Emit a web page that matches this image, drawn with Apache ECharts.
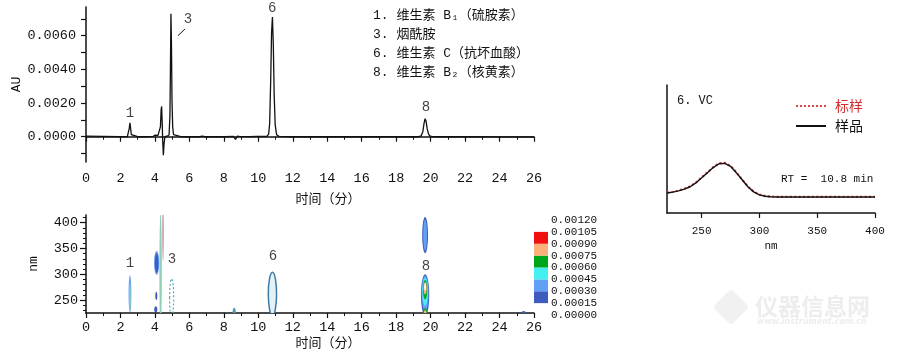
<!DOCTYPE html>
<html><head><meta charset="utf-8">
<script src="https://cdn.jsdelivr.net/npm/echarts@6/dist/echarts.min.js"></script>
<style>html,body{margin:0;padding:0;background:#fff}#c{width:900px;height:353px}</style>
</head><body><div id="c"></div>
<script>
// ---- Chromatogram (top) ----
const times = [0, 1, 2, 2.4, 2.47, 2.51, 2.55, 2.59, 2.63, 2.7, 3.0, 3.5, 3.9, 4.02, 4.1, 4.18, 4.26, 4.32, 4.36, 4.39, 4.42, 4.45, 4.49, 4.53, 4.58, 4.7, 4.82, 4.87, 4.9, 4.93, 4.96, 4.99, 5.03, 5.08, 5.15, 5.5, 6.0, 6.6, 6.75, 6.9, 7.5, 8.0, 8.55, 8.68, 8.78, 8.9, 9.5, 9.9, 10.0, 10.1, 10.5, 10.6, 10.66, 10.72, 10.77, 10.82, 10.87, 10.92, 10.98, 11.06, 11.2, 12, 14, 16, 18, 19.3, 19.45, 19.55, 19.62, 19.68, 19.74, 19.8, 19.88, 19.98, 20.1, 20.4, 22, 24, 26];
const absorbance = [0.00003, 0.00002, 0.00001, 0.00001, 0.00012, 0.0005, 0.00082, 0.0005, 0.00012, 0.00002, 0, 0, 0.00002, 0.0001, 0.00015, 0.00008, 0.00005, 0.0006, 0.0016, 0.0018, 0.0009, -0.0002, -0.0011, -0.0004, 0, 0.00003, 0.0001, 0.0012, 0.004, 0.0073, 0.0055, 0.0022, 0.0006, 0.00012, 0.00003, 0, 0, 0, 0.00004, 0, 0, 0, 0.00002, -0.00016, 0.00003, 0.00002, 0.00001, 0.00002, 0.00005, 0.00002, 0.00002, 0.00015, 0.0008, 0.0034, 0.0062, 0.0071, 0.0055, 0.0025, 0.0007, 0.00012, 0.00002, 0, 0, 0, 0, 0, 0.00005, 0.0003, 0.0008, 0.00107, 0.0009, 0.00048, 0.00015, 0.00003, 0.00001, 0, 0, -0.00001, -0.00001];
const auTickValues = [-0.001, 0, 0.001, 0.002, 0.003, 0.004, 0.005, 0.006, 0.007];
const auLabelValues = [0, 0.002, 0.004, 0.006];
const topPeakNames = ['1', '3', '6', '8'];
const topPeakLabelPos = [[2.55, 0.00137], [5.92, 0.00695], [10.8, 0.0076], [19.73, 0.00172]];
const peak3Leader = [[5.34, 0.0060], [5.75, 0.0064]];
const legendLines = ['1. 维生素 B₁（硫胺素）', '3. 烟酰胺', '6. 维生素 C（抗坏血酸）', '8. 维生素 B₂（核黄素）'];

// ---- Contour map (bottom) : [time, nm, timeHalfWidth, nmHalfHeight, level/style] ----
const contourBlobs = [
  [2.55, 262, 0.08, 36, 1], [2.55, 255, 0.045, 28, 9],
  [4.1, 322, 0.15, 23, 1], [4.1, 322, 0.1, 19, 0],
  [4.08, 258, 0.06, 8, 0], [4.05, 232, 0.09, 6, 0],
  [4.33, 305, 0.07, 115, 9], [4.47, 380, 0.05, 55, 10],
  [4.97, 254, 0.12, 37, 7],
  [8.6, 227, 0.09, 8, 11],
  [10.82, 262, 0.24, 42, 8],
  [19.68, 376, 0.17, 35, 0], [19.68, 376, 0.11, 30, 1],
  [19.68, 260, 0.24, 40, 0], [19.68, 263, 0.2, 34, 1], [19.68, 266, 0.16, 27, 2],
  [19.68, 270, 0.12, 19, 3], [19.68, 273, 0.09, 12, 4], [19.68, 275, 0.05, 7, 6],
  [19.68, 226, 0.12, 8, 3], [19.68, 226, 0.07, 5, 4],
  [25.4, 224, 0.14, 5, 0]
];
const nmMajorTicks = [250, 300, 350, 400];
const nmMinorTicks = [230, 240, 260, 270, 280, 290, 310, 320, 330, 340, 360, 370, 380, 390, 410];
const bottomPeakNames = ['1', '3', '6', '8'];
const bottomPeakLabelPos = [[2.55, 322], [4.99, 330], [10.85, 334], [19.73, 315]];

// ---- Colour bar ----
const colorLevels = [0, 0.00015, 0.0003, 0.00045, 0.0006, 0.00075, 0.0009, 0.00105, 0.0012];
const colorBandBase = 0.00015;
const colorBandSizes = [0.00015, 0.00015, 0.00015, 0.00015, 0.00015, 0.00015];

// ---- UV spectrum (right) ----
const wavelengths = [220, 225, 230, 235, 240, 245, 250, 255, 260, 265, 270, 275, 280, 285, 290, 295, 300, 305, 310, 315, 320, 325, 330, 335, 340, 345, 350, 355, 360, 365, 370, 375, 380, 385, 390, 395, 400];
const sampleSpectrum = [0.156, 0.163, 0.173, 0.187, 0.205, 0.235, 0.275, 0.315, 0.355, 0.385, 0.388, 0.365, 0.315, 0.26, 0.205, 0.165, 0.142, 0.131, 0.127, 0.125, 0.125, 0.125, 0.125, 0.125, 0.125, 0.125, 0.125, 0.125, 0.125, 0.125, 0.125, 0.125, 0.125, 0.125, 0.125, 0.125, 0.125];
const standardSpectrum = [0.158, 0.165, 0.175, 0.189, 0.208, 0.238, 0.278, 0.318, 0.358, 0.389, 0.392, 0.368, 0.318, 0.262, 0.207, 0.167, 0.144, 0.132, 0.128, 0.126, 0.126, 0.126, 0.126, 0.126, 0.126, 0.126, 0.126, 0.126, 0.126, 0.126, 0.126, 0.126, 0.126, 0.126, 0.126, 0.126, 0.126];
const nmSpecTicks = [250, 300, 350, 400];

// ---- styles ----
const MONO = "'Liberation Mono', 'Noto Sans CJK SC', monospace";
const CJK = "'Noto Sans CJK SC', sans-serif";
const INK = '#111';
const bandColors = ['#3D5CBE', '#62A0F5', '#45F0F0', '#00A61A', '#FDB07A', '#F01010'];
const blobStyles = [
  {fill: '#3D5CBE'}, {fill: '#62A0F5'}, {fill: '#45F0F0'}, {fill: '#00A61A'},
  {fill: '#FDB07A'}, {fill: '#F01010'}, {fill: '#FFFFFF'},
  {fill: 'none', stroke: '#5FA8B8', lineWidth: 1.2, lineDash: [2, 2]},
  {fill: '#E4F2F6', stroke: '#3D7AA8', lineWidth: 1.5},
  {fill: '#8FD0B4'}, {fill: '#C9A0B6'}, {fill: '#4E9AB0'}
];

const axisLineStyle = {lineStyle: {color: INK, width: 1.5}};
const tickStyle = {lineStyle: {color: INK, width: 1.2}};

function timeAxis(gridIndex, margin, nameGap) {
  return {
    type: 'value', gridIndex, min: 0, max: 26, interval: 2,
    axisLine: axisLineStyle,
    axisTick: {length: 5, ...tickStyle},
    minorTick: {show: true, splitNumber: 2, length: 3, lineStyle: {color: INK, width: 1}},
    axisLabel: {fontFamily: MONO, fontSize: 13.5, color: INK, margin},
    splitLine: {show: false}, minorSplitLine: {show: false},
    name: '时间（分）', nameLocation: 'middle', nameGap,
    nameTextStyle: {fontFamily: CJK, fontSize: 13, color: INK, padding: [0, 0, 0, 36]}
  };
}

const chart = echarts.init(document.getElementById('c'), null, {renderer: 'canvas'});
const option = {
  animation: false,
  backgroundColor: '#fff',
  grid: [
    {left: 86, top: 7, width: 448, height: 155, outerBoundsMode: 'none', containLabel: false},
    {left: 86, top: 215, width: 448, height: 98, outerBoundsMode: 'none', containLabel: false},
    {left: 667, top: 85, width: 208, height: 128, outerBoundsMode: 'none', containLabel: false},
    {left: 534, top: 220, width: 14, height: 95, outerBoundsMode: 'none', containLabel: false}
  ],
  xAxis: [
    timeAxis(0, 10, 30),
    timeAxis(1, 8, 23),
    {
      type: 'value', gridIndex: 2, min: 220, max: 400,
      axisLine: axisLineStyle,
      axisTick: {length: 5, customValues: nmSpecTicks, ...tickStyle},
      axisLabel: {customValues: nmSpecTicks, fontFamily: MONO, fontSize: 11, color: INK, margin: 13},
      splitLine: {show: false},
      name: 'nm', nameLocation: 'middle', nameGap: 28,
      nameTextStyle: {fontFamily: MONO, fontSize: 11, color: INK}
    },
    {type: 'category', gridIndex: 3, data: ['c'], show: false}
  ],
  yAxis: [
    {
      type: 'value', gridIndex: 0, position: 'left', min: -0.0015, max: 0.0077,
      axisLine: {show: true, ...axisLineStyle},
      axisTick: {show: true, length: 5, customValues: auTickValues, ...tickStyle},
      axisLabel: {customValues: auLabelValues, formatter: v => v.toFixed(4), fontFamily: MONO, fontSize: 13.5, color: INK, margin: 10},
      splitLine: {show: false},
      name: 'AU', nameLocation: 'middle', nameGap: 62,
      nameTextStyle: {fontFamily: MONO, fontSize: 13, color: INK}
    },
    {
      type: 'value', gridIndex: 1, position: 'left', min: 225, max: 415,
      axisLine: {show: true, ...axisLineStyle},
      axisTick: {show: true, length: 6, customValues: nmMajorTicks, ...tickStyle},
      axisLabel: {customValues: nmMajorTicks, fontFamily: MONO, fontSize: 13.5, color: INK, margin: 8},
      splitLine: {show: false},
      name: 'nm', nameLocation: 'middle', nameGap: 46,
      nameTextStyle: {fontFamily: MONO, fontSize: 13, color: INK}
    },
    {
      type: 'value', gridIndex: 1, position: 'left', min: 225, max: 415,
      axisLine: {show: false},
      axisTick: {show: true, length: 3, customValues: nmMinorTicks, lineStyle: {color: INK, width: 1}},
      axisLabel: {show: false}, splitLine: {show: false}
    },
    {
      type: 'value', gridIndex: 2, position: 'left', min: 0, max: 1,
      axisLine: {show: true, ...axisLineStyle},
      axisTick: {show: false}, axisLabel: {show: false}, splitLine: {show: false}
    },
    {
      type: 'value', gridIndex: 3, position: 'right', min: 0, max: 0.0012,
      axisLine: {show: false}, axisTick: {show: false}, splitLine: {show: false},
      axisLabel: {customValues: colorLevels, formatter: v => v.toFixed(5), fontFamily: MONO, fontSize: 11, color: INK, margin: 3}
    }
  ],
  legend: {
    data: [
      {name: '标样', textStyle: {color: '#D42E2E'}},
      {name: '样品', textStyle: {color: INK}}
    ],
    orient: 'vertical', left: 790, top: 94, itemWidth: 30, itemHeight: 14, itemGap: 6,
    itemStyle: {opacity: 0},
    textStyle: {fontFamily: CJK, fontSize: 14, padding: [0, 0, 0, 4]}
  },
  graphic: [
    {type: 'rect', x: 731, y: 307, rotation: Math.PI / 4, silent: true, z: -1,
     shape: {x: -13, y: -13, width: 26, height: 26, r: 4}, style: {fill: '#F1F1F1'}},
    {type: 'text', left: 373, top: 6, silent: true,
     style: {text: legendLines.join('\n'), fontFamily: MONO, fontSize: 13, lineHeight: 19, fill: INK}},
    {type: 'text', left: 677, top: 95, silent: true,
     style: {text: '6. VC', fontFamily: MONO, fontSize: 12, fill: INK}},
    {type: 'text', left: 781, top: 174, silent: true,
     style: {text: 'RT =  10.8 min', fontFamily: MONO, fontSize: 11, fill: INK}},
    {type: 'text', left: 755, top: 295, silent: true, z: -1,
     style: {text: '仪器信息网', fontFamily: CJK, fontSize: 23, fontWeight: 'bold', fill: '#EDEDED'}},
    {type: 'text', left: 757, top: 318, silent: true, z: -1,
     style: {text: 'www.instrument.com.cn', fontFamily: "'DejaVu Sans', sans-serif", fontSize: 8, fontStyle: 'italic', fontWeight: 'bold', fill: '#EDEDED'}}
  ],
  series: [
    {
      type: 'line', xAxisIndex: 0, yAxisIndex: 0, symbol: 'none', silent: true,
      lineStyle: {color: INK, width: 1.3},
      data: times.map((t, i) => [t, absorbance[i]]),
      markLine: {
        silent: true, symbol: ['none', 'none'], label: {show: false},
        lineStyle: {color: INK, width: 1, type: 'solid'},
        data: [[{coord: peak3Leader[0]}, {coord: peak3Leader[1]}]]
      }
    },
    {
      type: 'scatter', xAxisIndex: 0, yAxisIndex: 0, symbolSize: 1, silent: true,
      itemStyle: {color: 'rgba(0,0,0,0)'},
      data: topPeakLabelPos.map((p, i) => ({value: p, name: topPeakNames[i]})),
      label: {show: true, position: 'inside', formatter: p => p.name, fontFamily: MONO, fontSize: 14, color: INK}
    },
    {
      type: 'custom', xAxisIndex: 1, yAxisIndex: 1, clip: true, silent: true,
      data: contourBlobs,
      renderItem: function (params, api) {
        const c = api.coord([api.value(0), api.value(1)]);
        const s = api.size([api.value(2), api.value(3)]);
        const st = blobStyles[api.value(4)];
        return {type: 'ellipse', shape: {cx: c[0], cy: c[1], rx: s[0], ry: s[1]}, style: Object.assign({}, st)};
      }
    },
    {
      type: 'scatter', xAxisIndex: 1, yAxisIndex: 1, symbolSize: 1, silent: true,
      itemStyle: {color: 'rgba(0,0,0,0)'},
      data: bottomPeakLabelPos.map((p, i) => ({value: p, name: bottomPeakNames[i]})),
      label: {show: true, position: 'inside', formatter: p => p.name, fontFamily: MONO, fontSize: 14, color: INK}
    },
    {
      name: '标样', type: 'line', xAxisIndex: 2, yAxisIndex: 3, symbol: 'none', silent: true,
      lineStyle: {color: '#D84848', width: 2.2, type: 'dotted'}, itemStyle: {color: '#D84848'},
      data: wavelengths.map((w, i) => [w, standardSpectrum[i]])
    },
    {
      name: '样品', type: 'line', xAxisIndex: 2, yAxisIndex: 3, symbol: 'none', silent: true,
      lineStyle: {color: INK, width: 1.4}, itemStyle: {color: INK},
      data: wavelengths.map((w, i) => [w, sampleSpectrum[i]])
    },
    {
      type: 'bar', xAxisIndex: 3, yAxisIndex: 4, stack: 'cb', barWidth: '100%', silent: true,
      itemStyle: {color: 'rgba(0,0,0,0)'}, data: [colorBandBase]
    }
  ].concat(colorBandSizes.map((v, i) => ({
    type: 'bar', xAxisIndex: 3, yAxisIndex: 4, stack: 'cb', barWidth: '100%', silent: true,
    itemStyle: {color: bandColors[i]}, data: [v]
  })))
};
chart.setOption(option);
</script>
</body></html>
